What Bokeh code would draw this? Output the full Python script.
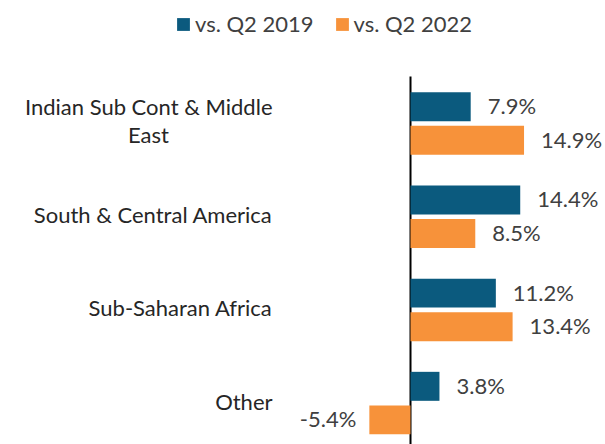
import numpy as np
from bokeh.plotting import figure
from bokeh.models import ColumnDataSource, Range1d, Legend, LegendItem
from bokeh.core.properties import value
from bokeh.embed import file_html
from bokeh.resources import INLINE

# ---------------- data ----------------
categories = ["Indian Sub Cont & Middle East", "South & Central America",
              "Sub-Saharan Africa", "Other"]
category_lines = [["Indian Sub Cont & Middle", "East"], ["South & Central America"],
                  ["Sub-Saharan Africa"], ["Other"]]
series_names = ["vs. Q2 2019", "vs. Q2 2022"]
vs_q2_2019 = [7.9, 14.4, 11.2, 3.8]
vs_q2_2022 = [14.9, 8.5, 13.4, -5.4]
series_colors = ["#0B5A7E", "#F7923A"]

# ---------------- layout constants ----------------
FONT = "Lato"
FS = "22px"
W, H = 605, 444
PX_PER_PCT = 7.62
ZERO_X = 410             # px of the zero line
CAT0_Y = 123             # px of first category centre
CAT_PITCH = 93.2
AXIS_TOP = 76            # px where the vertical axis line starts
BAR_H = 0.311
BAR_SHIFT = 0.18
TEXT_COLOR = "#404040"

x_range = Range1d(-ZERO_X / PX_PER_PCT, (W - ZERO_X) / PX_PER_PCT)
y_range = Range1d(-(H - CAT0_Y) / CAT_PITCH, CAT0_Y / CAT_PITCH)

p = figure(width=W, height=H, x_range=x_range, y_range=y_range,
           output_backend="svg", toolbar_location=None,
           min_border_left=0, min_border_right=0, min_border_bottom=0,
           min_border_top=0)
p.xaxis.visible = False
p.yaxis.visible = False
p.xgrid.visible = False
p.ygrid.visible = False
p.outline_line_color = None
p.background_fill_color = "white"
p.border_fill_color = "white"

cat_pos = -np.arange(len(categories), dtype=float)

# vertical category axis line at x = 0
axis_top = (CAT0_Y - AXIS_TOP) / CAT_PITCH
p.segment(x0=[0], x1=[0], y0=[y_range.start], y1=[axis_top],
          line_color="black", line_width=2)

renderers = []
for k, (vals, col) in enumerate(zip([vs_q2_2019, vs_q2_2022], series_colors)):
    ys = cat_pos + (BAR_SHIFT if k == 0 else -BAR_SHIFT)
    src = ColumnDataSource(dict(
        y=ys, right=vals, left=[0] * len(vals),
        text=[f"{v:.1f}%" for v in vals],
        align=["left" if v >= 0 else "right" for v in vals],
        xoff=[17 if v >= 0 else -13 for v in vals],
    ))
    r = p.hbar(y="y", left="left", right="right", height=BAR_H, source=src,
               fill_color=col, line_color=None)
    renderers.append(r)
    p.text(x="right", y="y", text="text", source=src, text_align="align",
           x_offset="xoff", y_offset=-1, text_baseline="middle",
           text_font=value(FONT), text_font_size=FS, text_color=TEXT_COLOR)

# category labels
LABEL_X = (272 - ZERO_X) / PX_PER_PCT
lx, ly, lt, la, lxo, lyo = [], [], [], [], [], []
for i, lines in enumerate(category_lines):
    if len(lines) == 1:
        lx.append(LABEL_X); ly.append(cat_pos[i]); lt.append(lines[0])
        la.append("right"); lxo.append(0); lyo.append(-2)
    else:
        lx.append(LABEL_X); ly.append(cat_pos[i]); lt.append(lines[0])
        la.append("right"); lxo.append(0); lyo.append(-17)
        lx.append(LABEL_X); ly.append(cat_pos[i]); lt.append(lines[1])
        la.append("center"); lxo.append(-124); lyo.append(10.5)
lab_src = ColumnDataSource(dict(x=lx, y=ly, text=lt, align=la, xo=lxo, yo=lyo))
p.text(x="x", y="y", text="text", source=lab_src, text_align="align",
       x_offset="xo", y_offset="yo", text_baseline="middle",
       text_font=value(FONT), text_font_size=FS, text_color="#262626")

legend = Legend(items=[LegendItem(label=n, renderers=[r]) for n, r in zip(series_names, renderers)],
                orientation="horizontal", location=(175, 407),
                padding=0, margin=0, spacing=20, label_standoff=4,
                glyph_width=16, glyph_height=16, label_height=20,
                label_text_font=FONT, label_text_font_size=FS,
                label_text_color=TEXT_COLOR,
                background_fill_alpha=0, border_line_color=None)
p.add_layout(legend, "center")

open("out.html", "w").write(file_html(p, INLINE))
